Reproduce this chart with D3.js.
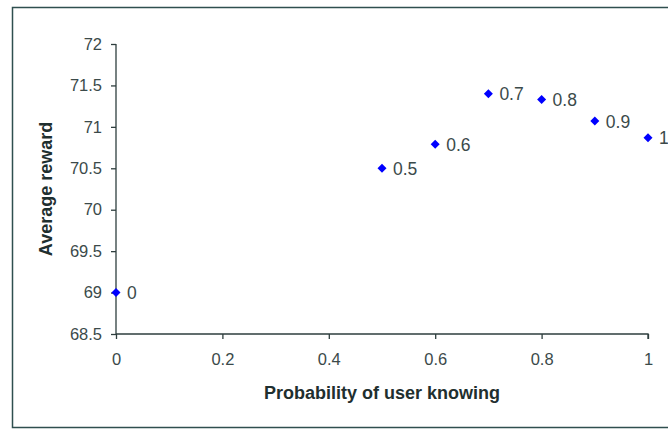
<!DOCTYPE html>
<html>
<head>
<meta charset="utf-8">
<script src="https://cdn.jsdelivr.net/npm/d3@7"></script>
<style>
  html, body { margin: 0; padding: 0; background: #fff; }
  svg { display: block; }
</style>
</head>
<body>
<svg id="chart" width="668" height="431"></svg>
<script>
// Probability of the user knowing vs. the average reward obtained
const probabilities = [0, 0.5, 0.6, 0.7, 0.8, 0.9, 1];
const rewards = [69.0, 70.5, 70.79, 71.4, 71.33, 71.07, 70.87];
const pointLabels = ["0", "0.5", "0.6", "0.7", "0.8", "0.9", "1"];
const xTicks = [0, 0.2, 0.4, 0.6, 0.8, 1];
const yTicks = [68.5, 69, 69.5, 70, 70.5, 71, 71.5, 72];

const W = 668, H = 431;
const ink = "#2e3e3e";
const font = "'Liberation Sans', Arial, sans-serif";

const svg = d3.select("#chart");

// outer chart frame
svg.append("rect")
  .attr("x", 12.5).attr("y", 7.5)
  .attr("width", W).attr("height", 420)
  .attr("fill", "#fff")
  .attr("stroke", "#2f4f4f").attr("stroke-width", 1.5);

const x = d3.scaleLinear().domain([0, 1]).range([116, 648]);
const y = d3.scaleLinear().domain([68.5, 72]).range([334, 44]);

// y axis
const yAxis = svg.append("g")
  .attr("transform", `translate(${x(0)},0)`)
  .call(d3.axisLeft(y).tickValues(yTicks).tickFormat(d3.format("")).tickSize(5).tickPadding(9));
// x axis
const xAxis = svg.append("g")
  .attr("transform", `translate(0,${y(68.5)})`)
  .call(d3.axisBottom(x).tickValues(xTicks).tickFormat(d3.format("")).tickSize(5).tickPadding(14));

[yAxis, xAxis].forEach(g => {
  g.select(".domain").attr("stroke", ink).attr("stroke-width", 1.3);
  g.selectAll(".tick line").attr("stroke", ink).attr("stroke-width", 1.3);
  g.selectAll(".tick text")
    .attr("fill", "#3b4a4a")
    .style("font-family", font)
    .style("font-size", "16.5px");
});
// keep the domains as plain lines (no outer ticks except the end of the x axis)
yAxis.select(".domain").attr("d", `M0,${y(72)}V${y(68.5)}`);
xAxis.select(".domain").attr("d", `M${x(0)},0H${x(1)}V5`);

// axis titles
svg.append("text")
  .attr("x", (x(0) + x(1)) / 2).attr("y", 399)
  .attr("text-anchor", "middle")
  .attr("fill", "#1f2f2f")
  .style("font-family", font)
  .style("font-size", "18px").style("font-weight", "bold")
  .text("Probability of user knowing");

svg.append("text")
  .attr("transform", `translate(52,${(y(72) + y(68.5)) / 2}) rotate(-90)`)
  .attr("text-anchor", "middle")
  .attr("fill", "#1f2f2f")
  .style("font-family", font)
  .style("font-size", "18px").style("font-weight", "bold")
  .text("Average reward");

// data points: square-proportioned diamonds
const data = probabilities.map((p, i) => ({ p, r: rewards[i], label: pointLabels[i] }));
const half = 4.5;
const diamondPath = `M0,${-half}L${half},0L0,${half}L${-half},0Z`;

svg.append("g").selectAll("path")
  .data(data).join("path")
  .attr("d", diamondPath)
  .attr("transform", d => `translate(${x(d.p)},${y(d.r)})`)
  .attr("fill", "#0000ff");

svg.append("g").selectAll("text")
  .data(data).join("text")
  .attr("x", d => x(d.p) + 11)
  .attr("y", d => y(d.r) + 6.5)
  .attr("fill", "#3b4a4a")
  .style("font-family", font)
  .style("font-size", "17.5px")
  .text(d => d.label);
</script>
</body>
</html>
